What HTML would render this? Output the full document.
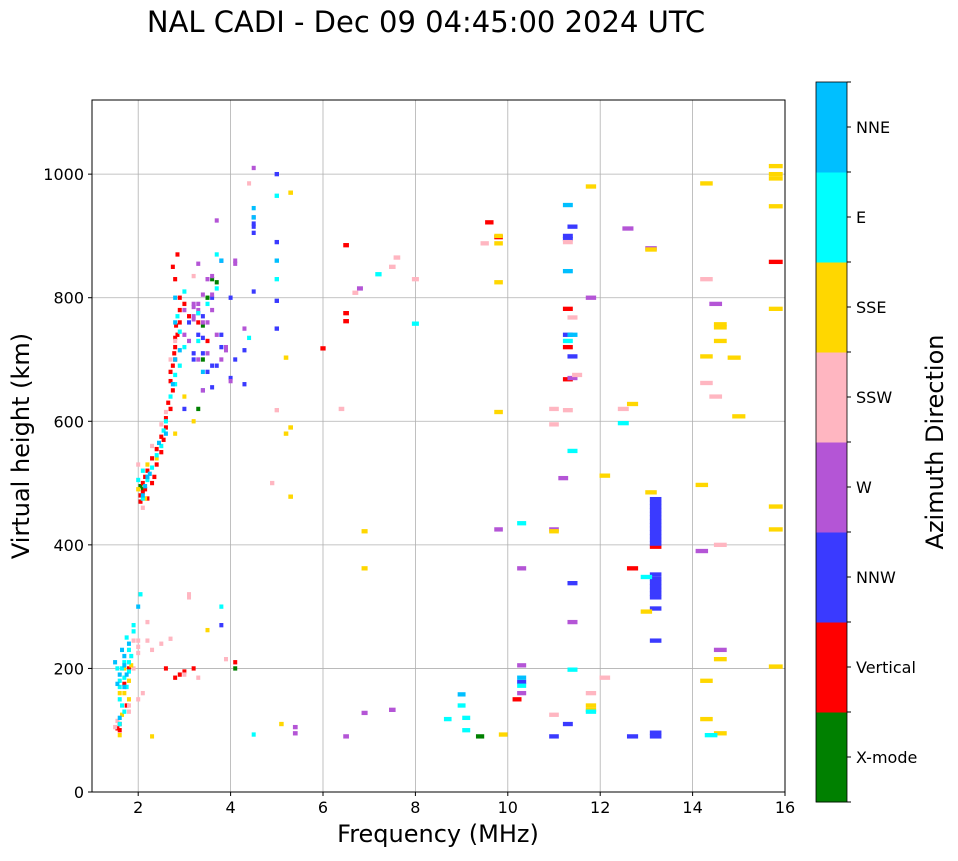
<!DOCTYPE html>
<html><head><meta charset="utf-8">
<style>
body{margin:0;background:#fff;font-family:"DejaVu Sans","Liberation Sans",sans-serif;}
svg text{font-family:"DejaVu Sans","Liberation Sans",sans-serif;}
</style></head>
<body>
<svg id="chart" width="958" height="857" viewBox="0 0 958 857" xmlns="http://www.w3.org/2000/svg">
<rect width="958" height="857" fill="#fff"/>
<text x="426" y="32" font-size="29" text-anchor="middle">NAL CADI - Dec 09 04:45:00 2024 UTC</text>
<g id="grid"></g>
<g id="marks"></g>
<rect x="92" y="100" width="693" height="692" fill="none" stroke="#000" stroke-width="1"/>
<g id="axes"></g>
<text x="438" y="842" font-size="24" text-anchor="middle">Frequency (MHz)</text>
<text transform="translate(29,446) rotate(-90)" font-size="24" text-anchor="middle">Virtual height (km)</text>
<g id="cbar"></g>
<text transform="translate(943,442) rotate(-90)" font-size="24" text-anchor="middle">Azimuth Direction</text>
</svg>
<script>
const xTicks=[2,4,6,8,10,12,14,16];
const yTicks=[0,200,400,600,800,1000];
const classNames=["X-mode","Vertical","NNW","W","SSW","SSE","E","NNE"];
const classColors=["#008000","#ff0000","#3a3aff","#b455d6","#ffb6c1","#ffd700","#00ffff","#00bfff"];
const xmode=[[9.4,90],[4.1,200],[3.7,825],[3.3,620],[2.1,490],[3.6,830],[2.05,495],[3.4,755],[3.4,700],[3.5,800]];
const vertical=[[1.6,100],[1.55,103],[2.05,480],[2.1,500],[2.15,490],[2.2,520],[2.3,500],[2.4,530],[2.5,550],[2.55,570],[2.6,590],[2.7,620],[2.75,650],[2.8,700],[2.85,740],[2.9,760],[2.75,850],[2.85,870],[3.0,790],[3.1,770],[3.3,760],[3.5,730],[2.8,185],[2.9,190],[3.0,195],[3.2,200],[2.6,200],[4.1,210],[6.5,885],[6.5,775],[6.5,762],[6.0,718],[9.6,922],[9.8,898],[10.2,150],[11.3,782],[11.3,668],[11.3,720],[12.7,362],[13.2,397],[15.8,858],[2.7,680],[2.8,720],[2.9,800],[2.2,475],[2.35,510],[2.05,470],[2.1,485],[2.15,510],[2.3,540],[2.4,555],[2.5,575],[2.6,605],[2.65,630],[2.7,665],[2.75,690],[2.78,710],[2.8,735],[2.82,755],[2.9,780],[2.8,830],[1.6,110],[1.7,175],[1.75,140],[1.8,200]];
const nnw=[[13.2,402],[13.2,408],[13.2,414],[13.2,420],[13.2,426],[13.2,432],[13.2,438],[13.2,444],[13.2,450],[13.2,456],[13.2,462],[13.2,468],[13.2,474],[13.2,315],[13.2,321],[13.2,327],[13.2,333],[13.2,339],[13.2,345],[13.2,352],[13.2,297],[13.2,245],[13.2,90],[13.2,96],[12.7,90],[11.3,110],[11.0,90],[11.3,740],[11.4,705],[11.3,895],[11.3,900],[11.4,915],[4.5,930],[4.5,915],[4.5,905],[4.5,920],[4.5,810],[5.0,1000],[5.0,890],[5.0,795],[5.0,750],[4.3,660],[4.3,715],[4.0,670],[3.8,860],[3.6,800],[3.4,770],[3.3,740],[3.2,700],[3.5,680],[3.8,740],[3.8,270],[11.4,338],[10.3,178],[4.1,700],[3.6,655],[3.0,620],[3.4,710],[3.7,690],[3.1,760],[4.0,800],[3.2,710],[3.4,735],[3.6,690],[3.8,720],[3.4,650]];
const wDir=[[3.2,785],[3.3,775],[3.4,760],[3.1,730],[3.5,710],[3.6,805],[3.9,715],[3.9,720],[4.1,855],[4.3,750],[3.7,925],[3.3,855],[3.5,830],[3.6,835],[4.0,665],[3.2,790],[5.4,95],[5.4,105],[12.6,912],[13.1,880],[14.5,790],[14.6,230],[14.2,390],[11.4,670],[11.8,800],[11.2,508],[10.3,205],[10.3,160],[11.0,425],[9.8,425],[10.3,362],[11.4,275],[6.8,815],[7.5,133],[6.9,128],[6.5,90],[4.5,1010],[3.5,760],[3.3,790],[3.0,740],[3.6,780],[3.4,650],[3.8,700],[3.2,765],[3.3,780],[3.2,770],[3.4,805],[3.0,780],[3.7,740],[3.3,700],[4.1,860]];
const ssw=[[1.5,105],[2.1,460],[2.0,530],[2.2,245],[2.3,230],[2.5,240],[2.0,225],[1.9,200],[2.7,248],[3.1,320],[3.1,315],[3.0,190],[3.3,185],[3.9,215],[11.0,125],[11.3,890],[11.3,618],[11.0,620],[11.0,595],[11.5,675],[11.8,160],[12.1,185],[12.5,620],[14.3,662],[14.3,830],[14.6,400],[14.5,640],[8.0,830],[7.6,865],[7.5,850],[6.7,808],[6.4,620],[5.0,618],[4.9,500],[4.4,985],[9.5,888],[11.4,768],[3.2,835],[2.2,275],[2.0,150],[1.8,140],[2.3,560],[2.5,595],[2.6,615],[2.7,700],[2.8,730],[1.55,115],[1.8,130],[1.9,245],[2.0,245],[2.0,235],[2.1,160]];
const sse=[[1.6,92],[2.3,90],[2.8,580],[3.5,262],[5.1,110],[5.3,970],[5.2,703],[5.3,590],[5.2,580],[5.3,478],[6.9,422],[6.9,362],[9.9,93],[9.8,888],[9.8,825],[9.8,615],[9.8,900],[11.0,422],[11.8,980],[11.8,140],[11.8,133],[12.1,512],[12.7,628],[13.1,485],[13.0,292],[13.1,878],[14.3,985],[14.3,705],[14.2,497],[14.3,180],[14.3,118],[14.6,95],[14.6,215],[14.6,730],[14.6,757],[14.6,752],[14.9,703],[15.0,608],[15.8,1013],[15.8,1000],[15.8,993],[15.8,948],[15.8,782],[15.8,462],[15.8,425],[15.8,203],[3.2,600],[3.0,640],[1.7,160],[1.8,180],[2.0,490],[2.15,475],[2.2,530],[2.4,540],[1.6,160],[1.7,200],[1.8,150],[1.85,205],[1.65,125]];
const eDir=[[1.6,180],[1.7,210],[1.8,230],[1.9,260],[1.6,150],[1.7,130],[1.8,195],[1.9,270],[2.05,320],[2.0,505],[2.1,520],[2.8,660],[2.9,690],[3.0,720],[3.3,730],[3.5,790],[3.7,870],[3.8,300],[4.5,93],[5.0,830],[5.0,965],[7.2,838],[8.0,758],[8.7,118],[9.1,100],[9.1,120],[9.0,140],[10.3,435],[10.3,172],[11.4,552],[11.4,198],[11.3,730],[11.8,130],[12.5,597],[13.0,348],[14.4,92],[4.4,735],[3.7,815],[3.3,775],[1.65,200],[1.75,170],[2.1,475],[2.2,505],[2.3,525],[2.4,545],[2.5,560],[2.55,585],[2.6,600],[2.7,640],[2.8,675],[2.9,745],[2.85,770],[3.0,810],[1.55,200],[1.6,170],[1.65,140],[1.7,185],[1.8,210],[1.75,250],[1.85,220],[1.6,110]];
const nne=[[1.5,210],[1.6,190],[1.7,170],[1.8,240],[1.6,120],[2.0,300],[2.1,480],[2.2,510],[2.8,700],[3.4,680],[3.8,860],[9.0,158],[10.3,185],[11.3,950],[11.3,843],[11.4,740],[5.0,860],[4.5,945],[4.5,930],[2.8,760],[1.7,220],[1.55,175],[2.15,495],[2.25,515],[2.45,565],[2.6,580],[2.75,660],[2.9,715],[2.8,800],[1.7,205],[1.65,230],[1.75,190]];
const series=[xmode,vertical,nnw,wDir,ssw,sse,eDir,nne];

const X0=92,X1=785,Y0=792,Y1=100;
const xs=f=>X0+(f-1)/(16-1)*(X1-X0);
const ys=h=>Y0-h/1120*(Y0-Y1);
const NS="http://www.w3.org/2000/svg";
function mk(tag,attrs,parent){const e=document.createElementNS(NS,tag);for(const k in attrs)e.setAttribute(k,attrs[k]);parent.appendChild(e);return e;}
const grid=document.getElementById('grid'),axes=document.getElementById('axes'),marks=document.getElementById('marks'),cbar=document.getElementById('cbar');
xTicks.forEach(t=>{const x=xs(t);
 const g=mk('line',{x1:x,x2:x,y1:Y1,y2:Y0,stroke:'#b0b0b0','stroke-width':0.8},grid);
 
 mk('line',{x1:x,x2:x,y1:Y0,y2:Y0+4,stroke:'#000'},axes);
 const l=mk('text',{x:x,y:Y0+21,'font-size':16,'text-anchor':'middle'},axes);l.textContent=t;
 });
yTicks.forEach(t=>{const y=ys(t);
 const g=mk('line',{x1:X0,x2:X1,y1:y,y2:y,stroke:'#b0b0b0','stroke-width':0.8},grid);
 
 mk('line',{x1:X0-4,x2:X0,y1:y,y2:y,stroke:'#000'},axes);
 const l=mk('text',{x:X0-8,y:y+6,'font-size':16,'text-anchor':'end'},axes);l.textContent=t;
 });
series.forEach((pts,ci)=>{pts.forEach(p=>{
 const w=Math.max(4,(xs(p[0]*1.02)-xs(p[0]))*0.95);
 const x=xs(p[0])-w/2,y1=ys(p[1]+3.5),y2=ys(p[1]-3.5);
 const r=mk('rect',{x:x,y:y1,width:w,height:y2-y1,fill:classColors[ci]},marks);
 
 });});
const CX=816,CW=31,CT=82,CB=802,n=classNames.length,bh=(CB-CT)/n;
classNames.forEach((nm,i)=>{const y=CB-(i+1)*bh;
 const r=mk('rect',{x:CX,y:y,width:CW,height:bh+0.5,fill:classColors[i]},cbar);
 
 mk('line',{x1:CX+CW,x2:CX+CW+4,y1:y+bh/2,y2:y+bh/2,stroke:'#000'},cbar);
 const l=mk('text',{x:CX+CW+9,y:y+bh/2+6,'font-size':16},cbar);l.textContent=nm;
 });
for(let i=0;i<=n;i++){const y=CT+i*bh;mk('line',{x1:CX+CW,x2:CX+CW+4,y1:y,y2:y,stroke:'#000'},cbar);}
mk('rect',{x:CX,y:CT,width:CW,height:CB-CT,fill:'none',stroke:'#000','stroke-width':0.8},cbar);
</script>
</body></html>
